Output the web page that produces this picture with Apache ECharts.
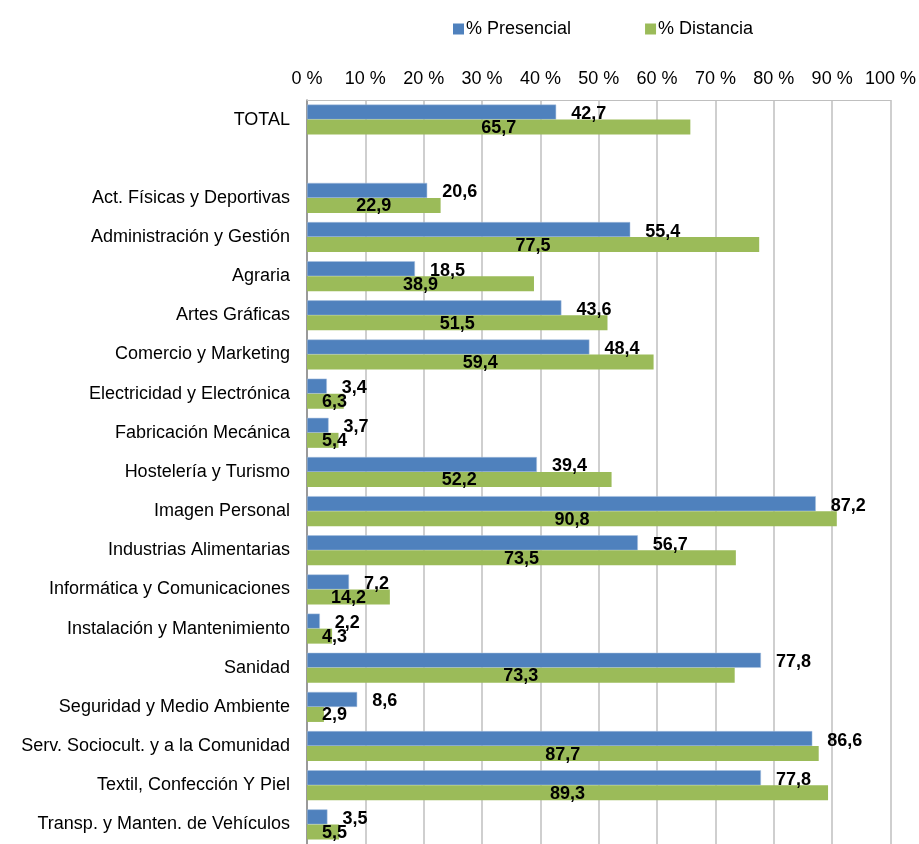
<!DOCTYPE html>
<html>
<head>
<meta charset="utf-8">
<script src="https://cdn.jsdelivr.net/npm/echarts@6/dist/echarts.min.js"></script>
<style>
  html, body { margin: 0; padding: 0; background: #fff; }
  #chart { width: 919px; height: 844px; }
</style>
</head>
<body>
<div id="chart"></div>
<script>
const categories = [
  'TOTAL', '',
  'Act. Físicas y Deportivas', 'Administración y Gestión', 'Agraria',
  'Artes Gráficas', 'Comercio y Marketing', 'Electricidad y Electrónica',
  'Fabricación Mecánica', 'Hostelería y Turismo', 'Imagen Personal',
  'Industrias Alimentarias', 'Informática y Comunicaciones',
  'Instalación y Mantenimiento', 'Sanidad', 'Seguridad y Medio Ambiente',
  'Serv. Sociocult. y a la Comunidad', 'Textil, Confección Y Piel',
  'Transp. y Manten. de Vehículos'
];
const presencial = [42.7, null, 20.6, 55.4, 18.5, 43.6, 48.4, 3.4, 3.7, 39.4, 87.2, 56.7, 7.2, 2.2, 77.8, 8.6, 86.6, 77.8, 3.5];
const distancia = [65.7, null, 22.9, 77.5, 38.9, 51.5, 59.4, 6.3, 5.4, 52.2, 90.8, 73.5, 14.2, 4.3, 73.3, 2.9, 87.7, 89.3, 5.5];

const FONT = '"Liberation Sans", Arial, sans-serif';
const fmt = p => p.value == null ? '' : p.value.toFixed(1).replace('.', ',');

// narrow green bars: label pushed to the left edge like Excel does
const distData = distancia.map(v => (v != null && v < 8)
  ? { value: v, label: { position: 'insideLeft', distance: 15 } }
  : v);

const chart = echarts.init(document.getElementById('chart'));
chart.setOption({
  animation: false,
  textStyle: { fontFamily: FONT },
  legend: {
    left: 448, top: 15,
    itemWidth: 11, itemHeight: 11, itemGap: 74,
    icon: 'rect',
    itemStyle: { borderWidth: 0 },
    textStyle: { fontSize: 18, color: '#000', fontFamily: FONT, padding: [0, 0, 0, -3] },
    data: ['% Presencial', '% Distancia']
  },
  grid: { left: 307, width: 586, top: 100, height: 746 },
  xAxis: {
    type: 'value', position: 'top', min: 0, max: 100, interval: 10,
    axisLabel: { formatter: '{value} %', fontSize: 18, color: '#000', margin: 12, fontFamily: FONT },
    axisLine: { show: true, lineStyle: { color: '#bfbfbf', width: 1 } },
    axisTick: { show: false },
    splitLine: { show: true, lineStyle: { color: '#bfbfbf', width: 1.5 } }
  },
  yAxis: {
    type: 'category', inverse: true, data: categories,
    axisLabel: { fontSize: 18, color: '#000', margin: 17, fontFamily: FONT },
    axisLine: { show: true, lineStyle: { color: '#888', width: 1.5 } },
    axisTick: { show: false }
  },
  series: [
    {
      name: '% Presencial', type: 'bar', data: presencial,
      barWidth: 15, barGap: '0%',
      itemStyle: { color: '#4F81BD', borderColor: '#a9c0de', borderWidth: 0.5 },
      label: {
        show: true, position: 'right', distance: 15, offset: [0, 2],
        formatter: fmt, fontSize: 18, fontWeight: 'bold', color: '#000', fontFamily: FONT
      }
    },
    {
      name: '% Distancia', type: 'bar', data: distData,
      barWidth: 15,
      itemStyle: { color: '#9BBB59' },
      label: {
        show: true, position: 'inside', offset: [0, 1],
        formatter: fmt, fontSize: 18, fontWeight: 'bold', color: '#000', fontFamily: FONT
      }
    }
  ]
});
</script>
</body>
</html>
